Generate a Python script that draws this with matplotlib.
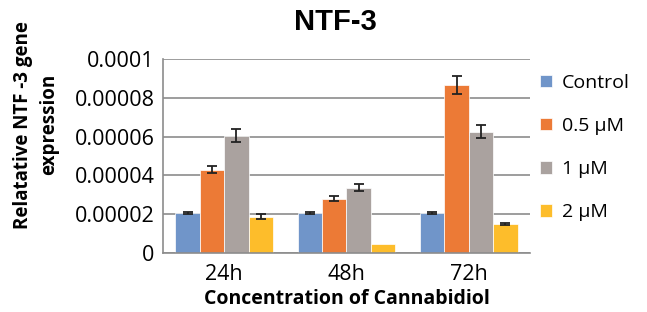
import numpy as np
import matplotlib.pyplot as plt

plt.rcParams['font.family'] = ['Open Sans', 'DejaVu Sans']

# data
times = ['24h', '48h', '72h']
labels = ['Control', '0.5 \u00b5M', '1 \u00b5M', '2 \u00b5M']
control = [2.05e-5, 2.05e-5, 2.05e-5]
half_uM = [4.29e-5, 2.81e-5, 8.66e-5]
one_uM = [6.05e-5, 3.37e-5, 6.25e-5]
two_uM = [1.88e-5, 0.46e-5, 1.50e-5]
err_control = [0.6e-6, 0.6e-6, 0.6e-6]
err_half = [1.9e-6, 1.5e-6, 4.4e-6]
err_one = [3.4e-6, 1.9e-6, 3.4e-6]
err_two = [1.2e-6, 0, 0.5e-6]

colors = ['#7095C9', '#EC7A36', '#AAA29F', '#FDBD2B']
series = [control, half_uM, one_uM, two_uM]
errs = [err_control, err_half, err_one, err_two]

fig = plt.figure(figsize=(6.47, 3.12), dpi=100)
ax = fig.add_axes([0.252, 0.189, 0.567, 0.622])

x = np.arange(len(times))
w = 0.2
for i in range(4):
    pos = x + (i - 1.5) * w
    ax.bar(pos, series[i], w, color=colors[i], label=labels[i],
           edgecolor='white', linewidth=0.5, zorder=2)
    e = np.array(errs[i])
    mask = e > 0
    ax.errorbar(pos[mask], np.array(series[i])[mask], yerr=e[mask], fmt='none',
                ecolor='#222222', elinewidth=1.3, capsize=3.5, capthick=1.3, zorder=3)

ax.set_xlim(-0.5, 2.5)
ax.set_ylim(0, 0.0001)
yt = [0, 0.00002, 0.00004, 0.00006, 0.00008, 0.0001]
ax.set_yticks(yt)
ax.set_yticklabels(['0', '0.00002', '0.00004', '0.00006', '0.00008', '0.0001'])
ax.set_xticks(x)
ax.set_xticklabels(times)
ax.tick_params(axis='y', labelsize=15.5, length=0, pad=6)
ax.tick_params(axis='x', labelsize=15.5, length=0, pad=8)
ax.yaxis.grid(True, color='#8c8c8c', linewidth=1.2, zorder=0)
ax.set_axisbelow(True)
for s in ['top', 'right']:
    ax.spines[s].set_visible(False)
for s in ['left', 'bottom']:
    ax.spines[s].set_color('#8c8c8c')
    ax.spines[s].set_linewidth(1.2)

fig.text(0.519, 0.929, 'NTF-3', fontsize=21, fontweight='bold',
         family=['Liberation Sans', 'DejaVu Sans'], ha='center', va='center')
ax.set_xlabel('Concentration of Cannabidiol', fontsize=14, fontweight='bold', labelpad=3)
fig.text(0.056, 0.60, 'Relatative NTF -3 gene\nexpression', fontsize=13.5,
         fontweight='bold', rotation=90, ha='center', va='center',
         multialignment='center', linespacing=1.45)

fig.legend(loc='upper left', bbox_to_anchor=(0.808, 0.82), frameon=False,
           fontsize=14, handlelength=0.6, handleheight=0.6, labelspacing=1.3,
           handletextpad=0.5)

fig.savefig('out.png', dpi=100)
